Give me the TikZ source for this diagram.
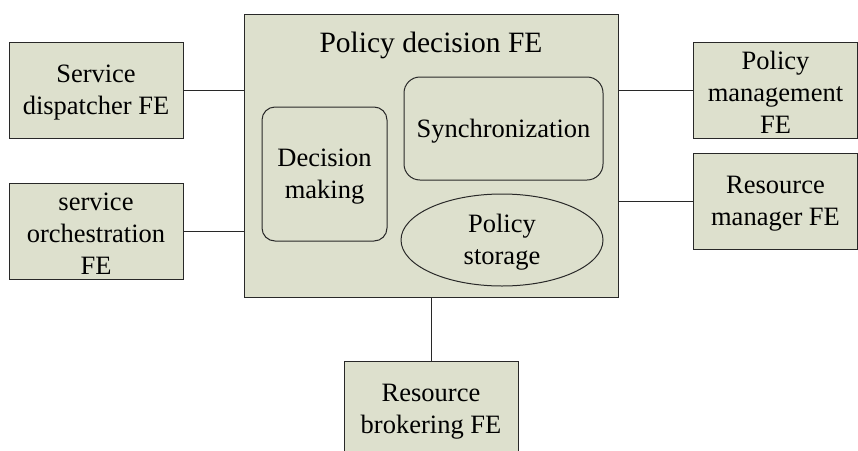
\documentclass[tikz,border=0pt]{standalone}
\usepackage{fontspec}
\setmainfont{Liberation Serif}
\usetikzlibrary{shapes.geometric}
\definecolor{boxfill}{RGB}{221,224,205}
\definecolor{edge}{RGB}{40,40,40}
\newcommand{\liftrule}{\rule{0pt}{23pt}}
\tikzset{
  fe/.style={draw=edge, fill=boxfill, line width=1pt, inner sep=0pt, align=center,
    font=\fontsize{26.5}{32}\selectfont},
  rbox/.style={fe, rounded corners=13pt},
  conn/.style={draw=edge, line width=1pt},
}
\begin{document}
\begin{tikzpicture}[x=1pt,y=-1pt]
\useasboundingbox (0,0) rectangle (858,450);
% main box
\node[draw=edge, fill=boxfill, line width=1pt, minimum width=374pt, minimum height=283pt] (main) at (431,155.5) {};
\node[font=\fontsize{29.5}{34}\selectfont, inner sep=0pt] (title) at (431,45) {Policy decision FE};
\node[rbox, minimum width=125pt, minimum height=134pt] (dm) at (324.5,174) {\liftrule Decision\\making};
\node[rbox, rounded corners=16pt, minimum width=199pt, minimum height=103pt] (sync) at (503.5,128.5) {\rule{0pt}{24pt}Synchronization};
\node[fe, ellipse, minimum width=202pt, minimum height=92pt] (ps) at (502,240) {\liftrule Policy\\storage};
% outer boxes
\node[fe, minimum width=174pt, minimum height=96pt] (sd) at (96,90) {\liftrule Service\\dispatcher FE};
\node[fe, minimum width=174pt, minimum height=96pt] (so) at (96,231) {\liftrule service\\orchestration\\FE};
\node[fe, minimum width=164pt, minimum height=96pt] (pm) at (775.5,90) {\liftrule Policy\\management\\FE};
\node[fe, minimum width=164pt, minimum height=96pt] (rm) at (775.5,201) {\liftrule Resource\\manager FE};
\node[fe, minimum width=174pt, minimum height=96pt] (rb) at (431,409) {\liftrule Resource\\brokering FE};
% connectors
\draw[conn] (sd.east) -- (sd.east -| main.west);
\draw[conn] (so.east) -- (so.east -| main.west);
\draw[conn] (pm.west -| main.east) -- (pm.west);
\draw[conn] (rm.west -| main.east) -- (rm.west);
\draw[conn] (rb.north |- main.south) -- (rb.north);
\end{tikzpicture}
\end{document}
